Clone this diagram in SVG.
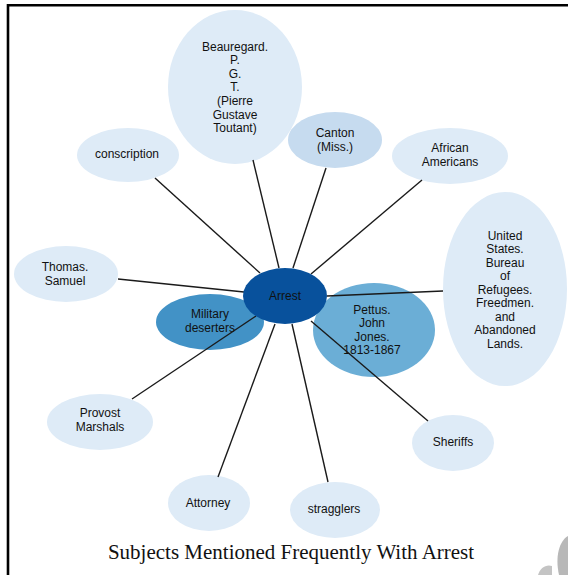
<svg xmlns="http://www.w3.org/2000/svg" width="568" height="575" viewBox="0 0 568 575">
<style>
.n text{font-family:"Liberation Sans",Arial,sans-serif;font-size:12px;fill:#111;text-anchor:middle}
.l1{fill:#deebf7}
.l2{fill:#c6dbef}
.m1{fill:#6baed6}
.m2{fill:#4292c6}
.d{fill:#08519c}
#edges line{stroke:#1a1a1a;stroke-width:1.4}
.title{font-family:"Liberation Serif","Times New Roman",serif;font-size:21px;fill:#111;text-anchor:middle}
</style>
<rect width="568" height="575" fill="#fff"/>
<path d="M8,575 V5.3 H568" fill="none" stroke="#000" stroke-width="2.6"/>

<g id="n-beauregard" class="n"><ellipse class="l1" cx="235" cy="87" rx="67" ry="77"/>
<text x="235" y="50.5">Beauregard.</text><text x="235" y="64.1">P.</text><text x="235" y="77.7">G.</text><text x="235" y="91.3">T.</text><text x="235" y="104.9">(Pierre</text><text x="235" y="118.5">Gustave</text><text x="235" y="132.1">Toutant)</text></g>
<g id="n-canton" class="n"><ellipse class="l2" cx="335" cy="140" rx="47" ry="28"/>
<text x="335" y="137">Canton</text><text x="335" y="151">(Miss.)</text></g>
<g id="n-conscription" class="n"><ellipse class="l1" cx="128" cy="155" rx="51" ry="27"/>
<text x="127" y="158">conscription</text></g>
<g id="n-african" class="n"><ellipse class="l1" cx="450" cy="156" rx="58" ry="28"/>
<text x="450" y="152">African</text><text x="450" y="166">Americans</text></g>
<g id="n-thomas" class="n"><ellipse class="l1" cx="66" cy="274" rx="52" ry="28"/>
<text x="65" y="271">Thomas.</text><text x="65" y="284.5">Samuel</text></g>
<g id="n-us" class="n"><ellipse class="l1" cx="505" cy="289" rx="62" ry="97"/>
<text x="505" y="239.5">United</text><text x="505" y="253">States.</text><text x="505" y="266.5">Bureau</text><text x="505" y="280">of</text><text x="505" y="293.5">Refugees.</text><text x="505" y="307">Freedmen.</text><text x="505" y="320.5">and</text><text x="505" y="334">Abandoned</text><text x="505" y="347.5">Lands.</text></g>
<g id="n-military" class="n"><ellipse class="m2" cx="210" cy="322" rx="54" ry="28"/>
<text x="210" y="318">Military</text><text x="210" y="332">deserters</text></g>
<g id="n-pettus" class="n"><ellipse class="m1" cx="374" cy="330" rx="61" ry="47"/>
<text x="372" y="313.5">Pettus.</text><text x="372" y="327">John</text><text x="372" y="340.5">Jones.</text><text x="372" y="354">1813-1867</text></g>
<g id="n-provost" class="n"><ellipse class="l1" cx="100" cy="422" rx="53" ry="28"/>
<text x="100" y="417">Provost</text><text x="100" y="431">Marshals</text></g>
<g id="n-sheriffs" class="n"><ellipse class="l1" cx="453" cy="443" rx="41" ry="28"/>
<text x="453" y="446">Sheriffs</text></g>
<g id="n-attorney" class="n"><ellipse class="l1" cx="209" cy="503" rx="41" ry="28"/>
<text x="208" y="507">Attorney</text></g>
<g id="n-stragglers" class="n"><ellipse class="l1" cx="335" cy="510" rx="45" ry="28"/>
<text x="334" y="513">stragglers</text></g>

<g id="edges">
<line x1="155" y1="178" x2="260" y2="273"/>
<line x1="253" y1="160" x2="279" y2="268"/>
<line x1="326" y1="168" x2="293" y2="268"/>
<line x1="422" y1="180" x2="311" y2="274"/>
<line x1="118" y1="279" x2="244" y2="292"/>
<line x1="443" y1="291" x2="327" y2="296"/>
<line x1="256" y1="316" x2="132" y2="399"/>
<line x1="275" y1="324" x2="218" y2="477"/>
<line x1="292" y1="324" x2="328" y2="482"/>
<line x1="311" y1="321" x2="428" y2="421"/>
</g>

<g id="n-arrest" class="n"><ellipse class="d" cx="285" cy="296" rx="42" ry="28"/>
<text x="285" y="300">Arrest</text></g>

<text class="title" x="291" y="559">Subjects Mentioned Frequently With Arrest</text>

<path d="M568,536 C559,541 555,557 559,575 L568,575 Z" fill="#b8b8b8"/>
<path d="M538,575 C540,568 546,564 552,566 L552,575 Z" fill="#c4c4c4"/>
</svg>
